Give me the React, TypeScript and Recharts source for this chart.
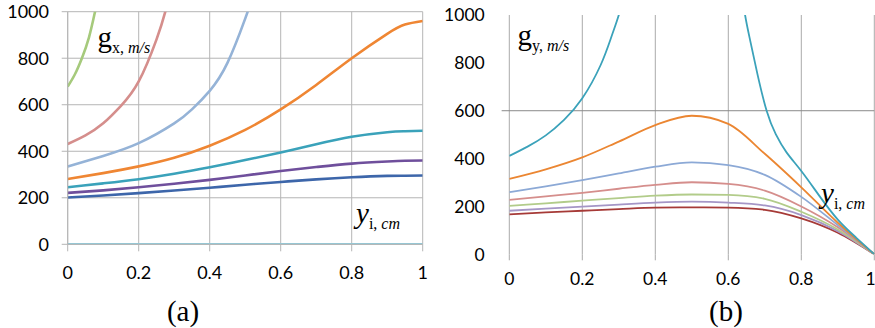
import React from "react";
import {
  LineChart,
  Line,
  XAxis,
  YAxis,
  CartesianGrid,
  ReferenceLine,
} from "recharts";

// ---- panel (a): g_x vs y_i ----
const xTicks = [0, 0.2, 0.4, 0.6, 0.8, 1];
const yTicks = [0, 200, 400, 600, 800, 1000];

const xsA = [0, 0.1, 0.2, 0.3, 0.4, 0.5, 0.6, 0.7, 0.8, 0.9, 0.95, 1];
const orangeA = [281, 306, 335, 372, 424, 492, 580, 685, 800, 905, 945, 960];
const tealA = [245, 262, 280, 303, 331, 362, 395, 430, 462, 482, 486, 488];
const purpleA = [221, 232, 245, 260, 277, 296, 315, 332, 347, 356, 359, 360];
const blueA = [201, 210, 220, 231, 243, 256, 268, 279, 288, 294, 295, 296];
const cyanA = [0, 0, 0, 0, 0, 0, 0, 0, 0, 0, 0, 0];

const greenAx = [0, 0.02, 0.04, 0.06, 0.077, 0.09];
const greenAy = [678, 730, 800, 890, 1000, 1090];
const pinkAx = [0, 0.05, 0.1, 0.15, 0.2, 0.25, 0.275, 0.29];
const pinkAy = [431, 468, 520, 595, 700, 880, 1000, 1090];
const lightBlueAx = [0, 0.1, 0.2, 0.3, 0.35, 0.4, 0.45, 0.5, 0.52];
const lightBlueAy = [334, 380, 435, 520, 580, 660, 780, 970, 1060];

// ---- panel (b): g_y vs y_i ----
const xsB = [0, 0.1, 0.2, 0.3, 0.4, 0.5, 0.6, 0.7, 0.8, 0.9, 1];
const orangeB = [315, 355, 405, 471, 540, 579, 545, 420, 280, 132, 0];
const lightBlueB = [260, 284, 310, 338, 366, 384, 373, 332, 240, 122, 0];
const pinkB = [227, 242, 257, 274, 290, 301, 294, 266, 200, 113, 0];
const greenB = [202, 213, 224, 235, 245, 250, 248, 232, 178, 104, 0];
const purpleB = [182, 191, 199, 208, 216, 220, 216, 204, 164, 97, 0];
const darkRedB = [167, 175, 182, 189, 195, 196, 195, 186, 150, 90, 0];

const tealLeftBx = [0, 0.05, 0.1, 0.15, 0.2, 0.25, 0.28, 0.3, 0.32];
const tealLeftBy = [411, 450, 497, 562, 652, 790, 910, 1000, 1110];
const tealRightBx = [0.635, 0.646, 0.66, 0.68, 0.705, 0.73, 0.76, 0.8, 0.85, 0.9, 0.95, 1];
const tealRightBy = [1120, 1000, 893, 752, 600, 502, 425, 348, 243, 145, 70, 0];

const rows = (xs: number[], ys: number[]) => xs.map((x, i) => ({ x, y: ys[i] }));

const tickFont = { fontFamily: "Lato", fontSize: 18, fill: "#000" };
const fmt = (v: number) => String(v);

function PanelA() {
  const series = [
    { key: "cyan", data: rows(xsA, cyanA), color: "#8FCBDB" },
    { key: "blue", data: rows(xsA, blueA), color: "#3D66AA" },
    { key: "purple", data: rows(xsA, purpleA), color: "#6F4F9C" },
    { key: "teal", data: rows(xsA, tealA), color: "#3AA2BA" },
    { key: "orange", data: rows(xsA, orangeA), color: "#EF8633" },
    { key: "lightblue", data: rows(lightBlueAx, lightBlueAy), color: "#95B3D7" },
    { key: "pink", data: rows(pinkAx, pinkAy), color: "#D58E8C" },
    { key: "green", data: rows(greenAx, greenAy), color: "#A6CA7C" },
  ];
  return (
    <LineChart
      width={440}
      height={328}
      margin={{ top: 11.7, right: 17.3, bottom: 53.7, left: 0 }}
    >
      <CartesianGrid stroke="#B5B5B5" />
      <XAxis
        type="number"
        dataKey="x"
        domain={[0, 1]}
        ticks={xTicks}
        allowDataOverflow
        height={30}
        tick={tickFont}
        tickFormatter={fmt}
        tickSize={7}
        tickMargin={15}
        stroke="#B5B5B5"
      />
      <YAxis
        type="number"
        dataKey="y"
        domain={[0, 1000]}
        ticks={yTicks}
        allowDataOverflow
        width={67.7}
        tick={tickFont}
        tickSize={6}
        tickMargin={12.7}
        stroke="#B5B5B5"
      />
      {series.map((s) => (
        <Line
          key={s.key}
          data={s.data}
          dataKey="y"
          type="natural"
          stroke={s.color}
          strokeWidth={2.6}
          dot={false}
          isAnimationActive={false}
        />
      ))}
    </LineChart>
  );
}

function PanelB() {
  const series = [
    { key: "darkred", data: rows(xsB, darkRedB), color: "#A63A37", curve: "monotone" },
    { key: "purple", data: rows(xsB, purpleB), color: "#A596C6", curve: "monotone" },
    { key: "green", data: rows(xsB, greenB), color: "#B2CC8A", curve: "monotone" },
    { key: "pink", data: rows(xsB, pinkB), color: "#D58E8C", curve: "monotone" },
    { key: "lightblue", data: rows(xsB, lightBlueB), color: "#8CA9D6", curve: "monotone" },
    { key: "orange", data: rows(xsB, orangeB), color: "#EB8632", curve: "monotone" },
    { key: "tealL", data: rows(tealLeftBx, tealLeftBy), color: "#3BA2BA", curve: "natural" },
    { key: "tealR", data: rows(tealRightBx, tealRightBy), color: "#3BA2BA", curve: "natural" },
  ];
  return (
    <LineChart
      width={435}
      height={328}
      margin={{ top: 15, right: 0.7, bottom: 43.7, left: 0 }}
      style={{ overflow: "visible" }}
    >
      <CartesianGrid stroke="#ABABAB" horizontal={false} />
      <XAxis
        type="number"
        dataKey="x"
        domain={[0, 1]}
        ticks={xTicks}
        allowDataOverflow
        height={30}
        tick={{ ...tickFont, fontSize: 17.5 }}
        tickFormatter={fmt}
        axisLine={false}
        tickLine={{ stroke: "#ABABAB" }}
        tickSize={6}
        tickMargin={12.7}
      />
      <YAxis
        type="number"
        dataKey="y"
        domain={[0, 1000]}
        ticks={yTicks}
        allowDataOverflow
        width={69.3}
        tick={{ ...tickFont, fontSize: 17.5 }}
        axisLine={false}
        tickLine={false}
        tickMargin={18.6}
      />
      <ReferenceLine
        segment={[
          { x: -0.021, y: 600 },
          { x: 1, y: 600 },
        ]}
        stroke="#8A8A8A"
        ifOverflow="visible"
      />
      {series.map((s) => (
        <Line
          key={s.key}
          data={s.data}
          dataKey="y"
          type={s.curve as "monotone" | "natural"}
          stroke={s.color}
          strokeWidth={1.8}
          dot={false}
          isAnimationActive={false}
        />
      ))}
    </LineChart>
  );
}

const SERIF = "Liberation Serif, Times New Roman, DejaVu Serif, serif";

function AxisName({ x, y, main, sub, unit, italicMain }: {
  x: number; y: number; main: string; sub: string; unit: string; italicMain?: boolean;
}) {
  return (
    <text x={x} y={y} fontFamily={SERIF} fontSize={29} fill="#000">
      <tspan fontStyle={italicMain ? "italic" : "normal"}>{main}</tspan>
      <tspan dy={6} fontSize={16}>{sub + ", "}</tspan>
      <tspan fontSize={16} fontStyle="italic">{unit}</tspan>
    </text>
  );
}

function Labels() {
  return (
    <svg
      width={875}
      height={328}
      fontFamily={SERIF}
      style={{ position: "absolute", left: 0, top: 0, pointerEvents: "none" }}
    >
      <AxisName x={97.5} y={47} main="g" sub="x" unit="m/s" />
      <AxisName x={517.5} y={45} main="g" sub="y" unit="m/s" />
      <AxisName x={356} y={223} main="y" sub="i" unit="cm" italicMain />
      <AxisName x={821} y={203} main="y" sub="i" unit="cm" italicMain />
      <text x={183} y={321} fontFamily={SERIF} fontSize={29} textAnchor="middle" fill="#000">
        (a)
      </text>
      <text x={726} y={321} fontFamily={SERIF} fontSize={29} textAnchor="middle" fill="#000">
        (b)
      </text>
    </svg>
  );
}

export default function App() {
  return (
    <div
      style={{
        position: "absolute",
        left: 0,
        top: 0,
        width: 875,
        height: 328,
        background: "#fff",
        overflow: "hidden",
      }}
    >
      <div style={{ position: "absolute", left: 0, top: 0 }}>
        <PanelA />
      </div>
      <div style={{ position: "absolute", left: 440, top: 0 }}>
        <PanelB />
      </div>
      <Labels />
    </div>
  );
}
